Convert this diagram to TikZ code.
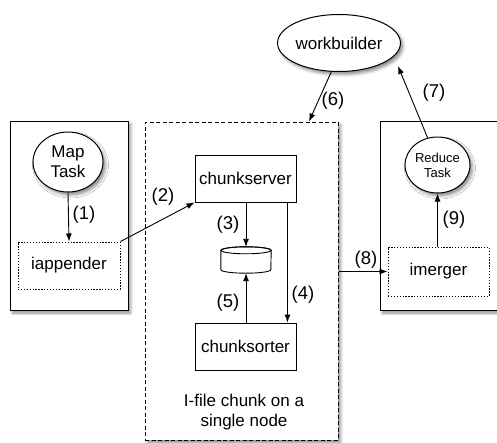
\documentclass[tikz,border=0pt]{standalone}
\usepackage{fontspec}
\setmainfont{Liberation Sans}
\usetikzlibrary{shapes.geometric,arrows.meta,shadows.blur}
\begin{document}
\begin{tikzpicture}[x=1pt,y=-1pt,
  every node/.style={font=\fontsize{17}{20}\selectfont, inner sep=0pt},
  lbl/.style={font=\fontsize{18.5}{21}\selectfont},
  shad/.style={blur shadow={shadow xshift=2.5pt, shadow yshift=-3pt, shadow blur radius=3pt, shadow opacity=45}},
  container/.style={draw, line width=1pt, fill=white, shad},
  dashbox/.style={draw, line width=1pt, fill=white, dash pattern=on 4pt off 2.5pt, shad},
  dotbox/.style={draw, line width=1pt, fill=white, dash pattern=on 1.3pt off 1.6pt},
  solidbox/.style={draw, line width=0.9pt, fill=white},
  oval/.style={ellipse, draw, line width=1pt, fill=white, shad, align=center},
  arr/.style={-{Latex[length=8pt,width=6pt]}, line width=0.9pt}
]
\useasboundingbox (0,0) rectangle (497,442);

% containers
\node[container, minimum width=118pt, minimum height=189pt] (leftbox) at (69,215.5) {};
\node[container, minimum width=140pt, minimum height=189pt] (rightbox) at (450,215.5) {};
\node[dashbox, minimum width=193pt, minimum height=318pt] (midbox) at (241.5,281) {};

% left side
\node[oval, minimum width=70pt, minimum height=60pt] (mapt) at (68,162) {Map\\Task};
\node[dotbox, minimum width=102pt, minimum height=47pt] (iapp) at (69,265.5) {iappender};

% middle
\node[solidbox, minimum width=101pt, minimum height=47pt] (cs) at (245.5,178.5) {chunkserver};
\node[solidbox, minimum width=101pt, minimum height=47pt] (csort) at (245.5,346.5) {chunksorter};
\node[minimum width=50pt, minimum height=26pt] (cyl) at (246,260) {};
\draw[line width=0.9pt, fill=white] (cyl.north west) ++(0pt,-3.5pt) -- ([yshift=3.5pt]cyl.south west)
   arc[start angle=180, end angle=360, x radius=25pt, y radius=3.5pt] -- ([yshift=-3.5pt]cyl.north east)
   arc[start angle=0, end angle=180, x radius=25pt, y radius=3.5pt] -- cycle;
\draw[line width=0.9pt] ([yshift=-3.5pt]cyl.north) ellipse [x radius=25pt, y radius=3.5pt];
\node[align=center, font=\fontsize{17}{20}\selectfont] (caption) at (244,412) {I-file chunk on a\\single node};

% right side
\node[oval, minimum width=65pt, minimum height=56pt, font=\fontsize{13}{15}\selectfont] (reduce) at (437.5,165) {Reduce\\Task};
\node[dotbox, minimum width=101pt, minimum height=49pt] (imerger) at (438.5,271.5) {imerger};

% top
\node[oval, minimum width=122pt, minimum height=57pt] (wb) at (339,43) {workbuilder};
\coordinate (t7) at (398,66);

% connectors
\draw[arr] (mapt.south) -- (iapp.north);
\draw[arr] (iapp.north east) -- (cs.south west);
\draw[arr] (cs.south -| cyl.north) -- (cyl.north);
\draw[arr] ([xshift=-9pt]cs.south east) -- ([xshift=-9pt]csort.north east);
\draw[arr] (csort.north -| cyl.south) -- (cyl.south);
\draw[arr] (wb.255) -- ([xshift=67.5pt]midbox.north);
\draw[arr] (reduce.110) -- (t7);
\draw[arr] (midbox.east |- imerger.west) -- (imerger.west);
\draw[arr] (imerger.north -| reduce.south) -- (reduce.south);

% labels
\node[lbl] at (84,215) {(1)};
\node[lbl] at (163,197) {(2)};
\node[lbl] at (228,225) {(3)};
\node[lbl] at (303,295) {(4)};
\node[lbl] at (228,303) {(5)};
\node[lbl] at (333,101) {(6)};
\node[lbl] at (434,93) {(7)};
\node[lbl] at (366,260) {(8)};
\node[lbl] at (454,220) {(9)};
\end{tikzpicture}
\end{document}
